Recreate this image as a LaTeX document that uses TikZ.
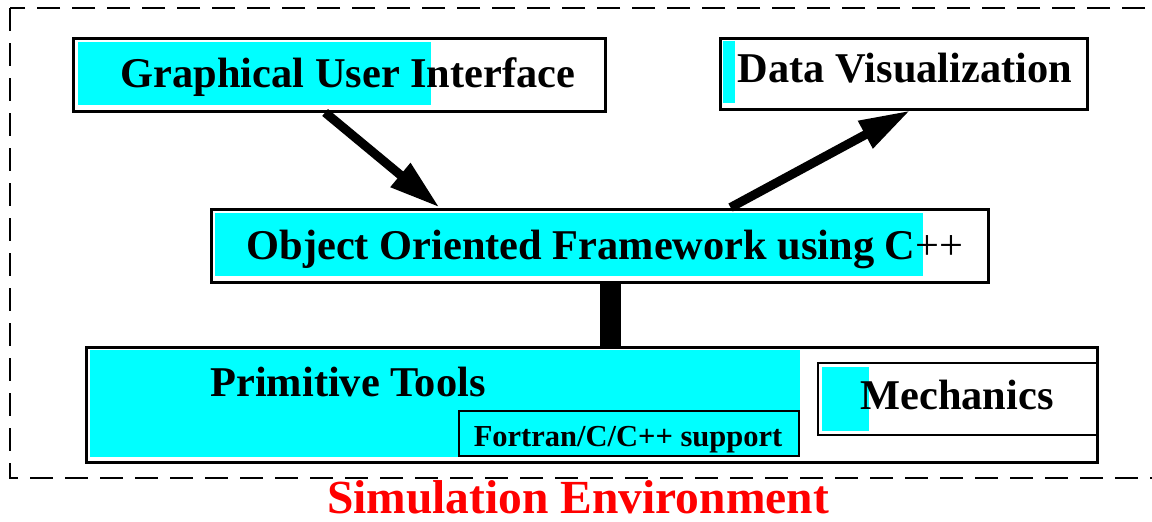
\documentclass[tikz,border=0pt]{standalone}
\usepackage{fontspec}
\setmainfont{Liberation Serif}
\usetikzlibrary{arrows.meta,fit,calc}
\definecolor{aqua}{RGB}{0,255,255}
\definecolor{pured}{RGB}{255,0,0}
\begin{document}
\begin{tikzpicture}[x=0.5pt,y=-0.5pt,
  box/.style={draw=black,line width=1.5pt,inner sep=0pt},
  mechbox/.style={draw=black,line width=1.2pt,inner sep=0pt},
  thinbox/.style={draw=black,line width=0.6pt,inner sep=0pt},
  hi/.style={fill=aqua},
  lbl/.style={anchor=base,inner sep=0pt,font=\bfseries\fontsize{21.2pt}{24pt}\selectfont},
  small/.style={anchor=base,inner sep=0pt,font=\bfseries\fontsize{15.25pt}{18pt}\selectfont},
  title/.style={anchor=base,inner sep=0pt,text=pured,font=\bfseries\fontsize{23.75pt}{28pt}\selectfont},
  flow/.style={line width=4.5pt,-{Triangle[length=25.5pt,width=14.5pt]}},
  bar/.style={line width=10.5pt},
  frame/.style={draw=black,line width=1pt,dash pattern=on 11.5pt off 6pt}]
\useasboundingbox (0,0) rectangle (1152,521);
\clip (0,0) rectangle (1152,521);
\fill[white] (0,0) rectangle (1152,521);
\draw[frame] (10,8) rectangle (1175,478);

% cyan highlights
\fill[hi] (78,42) rectangle (431,105);
\fill[hi] (723,41) rectangle (735,103);
\fill[hi] (215,213) rectangle (923,276);
\fill[hi] (90,350) rectangle (800,457);
\fill[hi] (822,367) rectangle (869,431);

% boxes
\node[box, fit={(73,38) (605,111)}] (gui) {};
\node[box, fit={(720,38) (1087,109)}] (dv) {};
\node[box, fit={(211,209) (988,282)}] (oof) {};
\node[box, fit={(86,347) (1097,462)}] (prim) {};
\node[thinbox, fit={(459,411) (799,456)}] (fort) {};
\node[mechbox, fit={(818,363) (1097,435)}] (mech) {};

% labels
\node[lbl] (guiL) at (348,87) {Graphical User Interface};
\node[lbl] (dvL) at (905,82) {Data Visualization};
\node[lbl] (oofL) at (605,259) {Object Oriented Framework using C{\mdseries ++}};
\node[lbl] (primL) at (348,396) {Primitive Tools};
\node[lbl] (mechL) at (957,409) {Mechanics};
\node[small] (fortL) at (628,446) {Fortran/C/C++ support};
\node[title] (titleL) at (578,513) {Simulation Environment};

% connectors
\draw[flow] ($(gui.south west)!0.474!(gui.south east)$) -- ($(oof.north west)!0.295!(oof.north east)$);
\draw[flow] ($(oof.north west)!0.668!(oof.north east)$) -- ($(dv.south west)!0.518!(dv.south east)$);
\draw[bar] ($(oof.south west)!0.5135!(oof.south east)$) coordinate (b1) -- (b1 |- prim.north);
\end{tikzpicture}
\end{document}
